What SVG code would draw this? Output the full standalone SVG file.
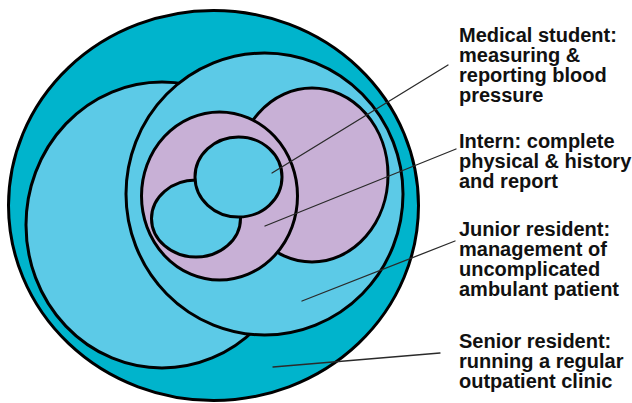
<svg xmlns="http://www.w3.org/2000/svg" width="632" height="403" viewBox="0 0 632 403">
  <style>
    .shape { stroke: #000; stroke-width: 3; }
    .dark { fill: #00b4cc; }
    .light { fill: #5ccae7; }
    .purple { fill: #c8b0d6; }
    .lead { stroke: #2a2a2a; stroke-width: 1.3; fill: none; stroke-linecap: round; }
    .lbl { font-family: "Liberation Sans", Arial, sans-serif; font-weight: bold; font-size: 20px; fill: #111; }
  </style>
  <rect width="632" height="403" fill="#fff"/>
  <g id="senior-resident">
    <ellipse class="shape dark" cx="213.5" cy="205.5" rx="205" ry="195"/>
    <ellipse class="shape light" cx="162" cy="225" rx="136" ry="143"/>
  </g>
  <g id="junior-resident">
    <ellipse class="shape light" cx="264.5" cy="194" rx="138.5" ry="141"/>
    <ellipse class="shape purple" cx="312" cy="175" rx="76" ry="87"/>
  </g>
  <g id="intern">
    <ellipse class="shape purple" cx="219.5" cy="196" rx="78" ry="84"/>
  </g>
  <g id="medical-student">
    <ellipse class="shape light" cx="196" cy="218.5" rx="44.5" ry="38.5"/>
    <ellipse class="shape light" cx="238.5" cy="177" rx="43.5" ry="40"/>
  </g>
  <g id="connectors">
    <line class="lead" x1="272" y1="173" x2="448" y2="65"/>
    <line class="lead" x1="265" y1="226" x2="456" y2="149"/>
    <line class="lead" x1="302" y1="301" x2="455" y2="241"/>
    <line class="lead" x1="273" y1="367" x2="440" y2="353"/>
  </g>
  <g id="label-medical-student">
    <text class="lbl" x="459" y="42">Medical student:</text>
    <text class="lbl" x="459" y="62">measuring &amp;</text>
    <text class="lbl" x="459" y="82">reporting blood</text>
    <text class="lbl" x="459" y="102">pressure</text>
  </g>
  <g id="label-intern">
    <text class="lbl" x="459" y="148">Intern: complete</text>
    <text class="lbl" x="459" y="168">physical &amp; history</text>
    <text class="lbl" x="459" y="188">and report</text>
  </g>
  <g id="label-junior-resident">
    <text class="lbl" x="459" y="236">Junior resident:</text>
    <text class="lbl" x="459" y="256">management of</text>
    <text class="lbl" x="459" y="276">uncomplicated</text>
    <text class="lbl" x="459" y="296">ambulant patient</text>
  </g>
  <g id="label-senior-resident">
    <text class="lbl" x="459" y="348">Senior resident:</text>
    <text class="lbl" x="459" y="368">running a regular</text>
    <text class="lbl" x="459" y="388">outpatient clinic</text>
  </g>
</svg>
